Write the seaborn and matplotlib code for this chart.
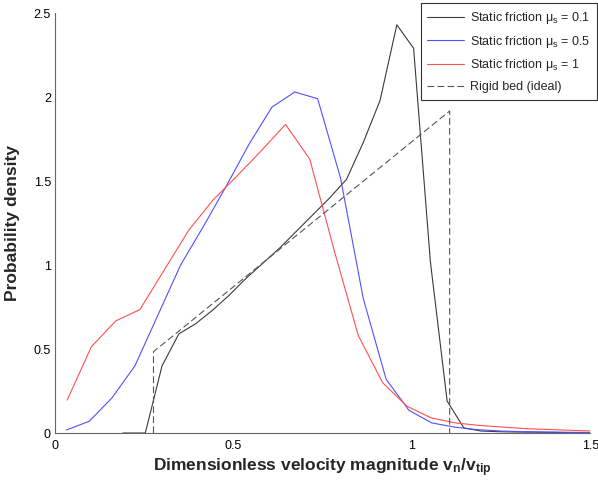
import matplotlib
matplotlib.use("Agg")
import matplotlib.pyplot as plt
import seaborn as sns
import pandas as pd

# ---- data ----
black_x = [0.190, 0.253, 0.300, 0.347, 0.394, 0.441, 0.488, 0.535, 0.582, 0.629, 0.676,
           0.723, 0.770, 0.817, 0.864, 0.911, 0.958, 1.005, 1.052, 1.099, 1.146, 1.193,
           1.240, 1.287, 1.334, 1.381, 1.428, 1.475, 1.522]
black_y = [0.0, 0.0, 0.40, 0.59, 0.65, 0.73, 0.82, 0.92, 1.01, 1.10, 1.20,
           1.30, 1.40, 1.51, 1.73, 1.98, 2.43, 2.29, 1.02, 0.19, 0.03, 0.012,
           0.008, 0.006, 0.005, 0.004, 0.003, 0.003, 0.002]

blue_x = [0.032, 0.096, 0.160, 0.224, 0.288, 0.352, 0.416, 0.480, 0.544, 0.608, 0.672,
          0.736, 0.800, 0.864, 0.928, 0.992, 1.056, 1.120, 1.184, 1.248, 1.312, 1.376,
          1.440, 1.504]
blue_y = [0.018, 0.07, 0.21, 0.40, 0.70, 1.00, 1.23, 1.47, 1.72, 1.94, 2.03,
          1.99, 1.52, 0.80, 0.32, 0.135, 0.06, 0.035, 0.02, 0.012, 0.008, 0.006,
          0.004, 0.003]

red_x = [0.034, 0.102, 0.170, 0.238, 0.306, 0.374, 0.442, 0.510, 0.578, 0.646, 0.714,
         0.782, 0.850, 0.918, 0.986, 1.054, 1.122, 1.190, 1.258, 1.326, 1.394, 1.462,
         1.530]
red_y = [0.196, 0.514, 0.667, 0.735, 0.97, 1.205, 1.385, 1.53, 1.68, 1.837, 1.63,
         1.09, 0.58, 0.30, 0.16, 0.09, 0.06, 0.045, 0.035, 0.025, 0.02, 0.015,
         0.01]

rigid_x = [0.276, 0.276, 1.106, 1.106]
rigid_y = [0.0, 0.484, 1.917, 0.0]

labels = [r"Static friction $\mathregular{\mu_s}$ = 0.1",
          r"Static friction $\mathregular{\mu_s}$ = 0.5",
          r"Static friction $\mathregular{\mu_s}$ = 1",
          "Rigid bed (ideal)"]
x_ticks = [0, 0.5, 1, 1.5]
x_tick_labels = ["0", "0.5", "1", "1.5"]
y_ticks = [0, 0.5, 1, 1.5, 2, 2.5]
y_tick_labels = ["0", "0.5", "1", "1.5", "2", "2.5"]

# ---- style ----
sns.set_style("white")
plt.rcParams['font.family'] = ['Liberation Sans', 'DejaVu Sans']
plt.rcParams['mathtext.fontset'] = 'custom'
plt.rcParams['mathtext.rm'] = 'Liberation Sans'
plt.rcParams['mathtext.bf'] = 'Liberation Sans:bold'
plt.rcParams['mathtext.it'] = 'Liberation Sans:italic'

fig = plt.figure(figsize=(5.98, 4.83), dpi=100)
ax = fig.add_axes([0.092, 0.1035, 0.895, 0.8695])

df_k = pd.DataFrame({"x": black_x, "y": black_y})
df_b = pd.DataFrame({"x": blue_x, "y": blue_y})
df_r = pd.DataFrame({"x": red_x, "y": red_y})
df_d = pd.DataFrame({"x": rigid_x, "y": rigid_y})

common = dict(ax=ax, sort=False, estimator=None, errorbar=None, lw=0.8)
sns.lineplot(data=df_k, x="x", y="y", color="#3a3a3a", label=labels[0], **common)
sns.lineplot(data=df_b, x="x", y="y", color="#5050ff", label=labels[1], **common)
sns.lineplot(data=df_r, x="x", y="y", color="#ff5050", label=labels[2], **common)
sns.lineplot(data=df_d, x="x", y="y", color="#555555", linestyle=(0, (6, 3)),
             label=labels[3], **common)

ax.set_xlim(0, 1.5)
ax.set_ylim(0, 2.5)
ax.set_xticks(x_ticks)
ax.set_xticklabels(x_tick_labels)
ax.set_yticks(y_ticks)
ax.set_yticklabels(y_tick_labels)
ax.tick_params(direction="in", length=4, width=0.8, labelsize=9, colors="#555555",
               labelcolor="black", pad=3)
ax.tick_params(axis="x", pad=5)
for s in ["top", "right"]:
    ax.spines[s].set_visible(False)
for s in ["left", "bottom"]:
    ax.spines[s].set_color("#666666")
    ax.spines[s].set_linewidth(0.8)

ax.set_xlabel(r"Dimensionless velocity magnitude $\mathbf{v_n}$/$\mathbf{v_{tip}}$",
              fontsize=12.5, fontweight="bold", labelpad=3)
ax.set_ylabel("Probability density", fontsize=12.5, fontweight="bold", labelpad=10)

leg = ax.legend(loc="upper right", bbox_to_anchor=(597 / 598, 1 - 3 / 483),
                bbox_transform=fig.transFigure, fontsize=9, frameon=True, fancybox=False,
                edgecolor="#333333", framealpha=1, handlelength=2.9, labelspacing=0.62,
                borderpad=0.55, handletextpad=0.5, borderaxespad=0)
leg.get_frame().set_linewidth(0.8)

fig.savefig("out.png", dpi=100)
